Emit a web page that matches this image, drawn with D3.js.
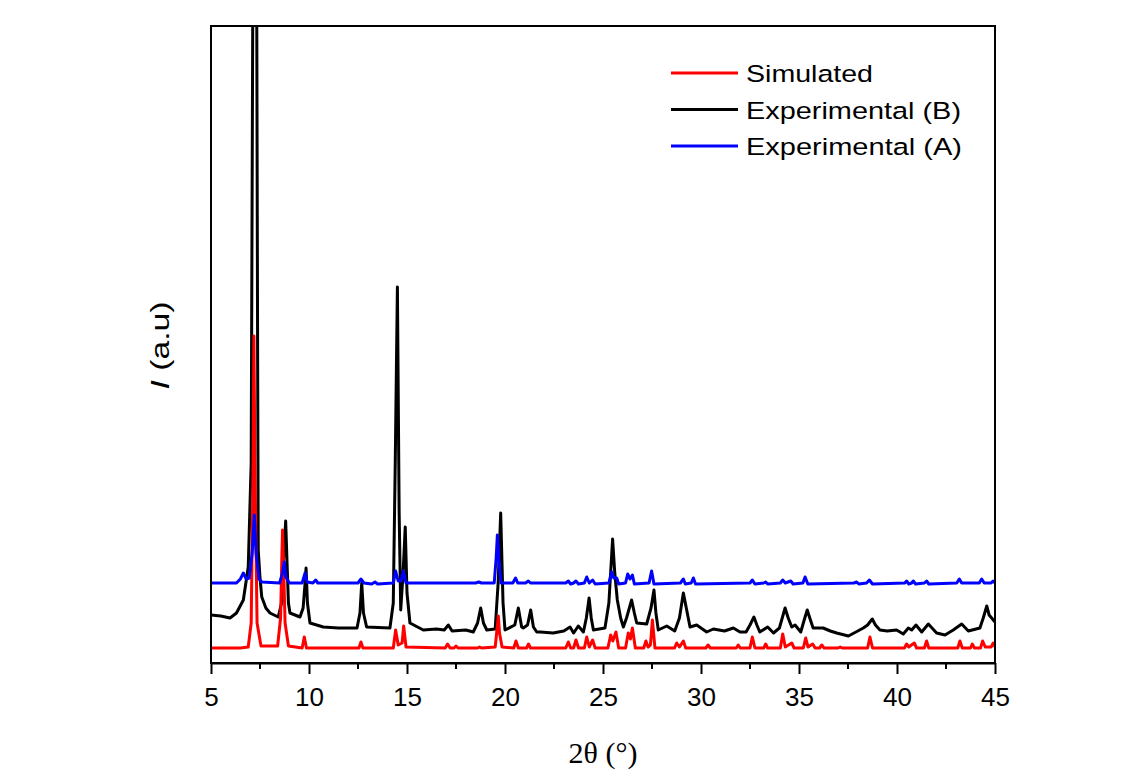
<!DOCTYPE html>
<html>
<head>
<meta charset="utf-8">
<script src="https://cdn.jsdelivr.net/npm/d3@7"></script>
<style>
  html, body { margin: 0; padding: 0; background: #fff; }
  svg { display: block; }
</style>
</head>
<body>
<svg id="chart" width="1140" height="778"></svg>
<script>
// ---- Data (2θ in degrees, intensity in arbitrary units) ----
const xTicks = [5, 10, 15, 20, 25, 30, 35, 40, 45];
const seriesNames = ["Simulated", "Experimental (B)", "Experimental (A)"];

const simulated = [
  [5.0,15],[6.5,15],[6.9,16],[7.05,40],[7.15,200],[7.19,327],[7.24,200],[7.35,40],[7.55,17],
  [8.4,17],[8.55,45],[8.62,110],[8.65,133],[8.7,100],[8.78,40],[8.95,17],
  [9.65,15],[9.76,26],[9.87,15],[12.55,15],[12.65,21],[12.75,15],
  [14.3,15],[14.42,33],[14.55,18],[14.75,20],[14.83,37],[14.95,16],
  [16.95,15],[17.07,19],[17.2,15],[17.4,15],[17.5,17],[17.6,15],[18.6,15],[18.7,16],[18.8,15],
  [19.5,16],[19.6,35],[19.66,47],[19.72,30],[19.85,16],[20.45,15],[20.56,22],[20.68,15],
  [21.1,15],[21.2,19],[21.3,15],[23.1,15],[23.23,21],[23.35,15],[23.5,15],[23.62,23],[23.75,15],
  [24.05,15],[24.17,26],[24.3,16],[24.47,23],[24.6,15],[25.25,15],[25.39,28],[25.5,22],[25.66,31],[25.8,15],
  [26.15,15],[26.29,30],[26.4,24],[26.5,35],[26.65,15],[27.08,15],[27.19,22],[27.3,16],[27.42,18],[27.52,43],[27.65,15],
  [28.65,15],[28.76,20],[28.9,16],[29.1,22],[29.22,15],[30.25,15],[30.36,18],[30.48,15],
  [31.8,15],[31.9,18],[32.0,15],[32.5,15],[32.62,26],[32.75,15],[33.2,15],[33.3,19],[33.4,15],
  [34.05,15],[34.17,29],[34.3,16],[34.63,20],[34.75,15],[35.22,15],[35.34,25],[35.46,16],[35.7,19],[35.82,15],
  [36.05,15],[36.16,18],[36.28,15],[37.0,15],[37.1,16],[37.2,15],[38.5,15],[38.62,26],[38.75,15],
  [40.38,15],[40.49,19],[40.6,16],[40.88,20],[41.0,15],[41.4,15],[41.51,22],[41.62,15],
  [43.1,15],[43.21,22],[43.33,15],[43.75,15],[43.84,19],[43.95,15],[44.26,15],[44.37,22],[44.5,16],[44.8,16],[44.91,20],[45.0,16]
];

const experimentalB = [
  [5.0,48],[5.5,47],[5.97,45],[6.3,50],[6.65,63],[6.9,96],[7.05,200],[7.15,760],[7.22,760],[7.32,760],[7.38,300],
  [7.41,113],[7.5,85],[7.59,66],[7.8,55],[8.01,50],[8.43,46],[8.6,60],[8.72,110],[8.81,142],[8.88,100],[8.95,60],
  [9.03,50],[9.54,46],[9.7,55],[9.8,80],[9.85,95],[9.92,60],[10.05,40],[10.73,36],[11.5,35],[12.45,35],
  [12.6,50],[12.69,80],[12.78,50],[12.94,36],[14.13,35],[14.3,60],[14.4,200],[14.51,376],[14.6,150],[14.68,53],
  [14.8,90],[14.91,136],[15.0,70],[15.15,40],[15.83,33],[16.5,34],[16.9,33],[17.11,38],[17.3,32],[18.0,33],
  [18.38,31],[18.6,40],[18.76,55],[18.9,40],[19.07,33],[19.5,34],[19.65,80],[19.78,150],[19.9,60],[20.0,33],
  [20.5,38],[20.68,55],[20.85,36],[20.93,35],[21.15,38],[21.31,53],[21.45,36],[21.62,31],[21.8,31],[22.46,30],
  [23.0,32],[23.32,36],[23.5,30],[23.74,37],[24.0,31],[24.15,45],[24.29,65],[24.4,45],[24.51,33],[25.1,35],
  [25.3,60],[25.49,124],[25.6,90],[25.73,63],[25.9,45],[26.04,36],[26.2,45],[26.46,63],[26.6,50],[26.72,40],
  [27.23,39],[27.45,55],[27.6,73],[27.7,50],[27.82,33],[28.25,37],[28.66,32],[28.9,45],[29.1,70],[29.25,55],
  [29.44,36],[29.78,38],[30.29,31],[30.63,34],[31.2,32],[31.65,35],[31.99,31],[32.3,31],[32.5,38],[32.7,46],
  [32.85,38],[33.0,31],[33.4,36],[33.7,30],[34.0,35],[34.29,55],[34.45,45],[34.63,36],[34.8,38],[35.09,31],
  [35.25,42],[35.42,53],[35.55,45],[35.72,35],[36.23,35],[36.6,32],[36.92,30],[37.52,27],[38.0,32],[38.28,35],
  [38.5,38],[38.74,44],[38.9,38],[39.13,33],[39.5,32],[39.98,33],[40.32,29],[40.58,35],[40.75,33],[40.97,38],
  [41.26,31],[41.6,39],[42.02,30],[42.45,28],[42.87,33],[43.3,39],[43.64,32],[44.23,35],[44.4,45],[44.58,57],
  [44.7,48],[44.83,45],[45.0,41]
];

const experimentalA = [
  [5.0,80],[6.3,80],[6.5,84],[6.65,90],[6.8,84],[6.95,85],[7.1,110],[7.21,148],[7.3,110],[7.45,84],[7.6,81],
  [8.5,80],[8.65,90],[8.74,101],[8.82,86],[9.0,80],[9.65,80],[9.8,90],[9.9,81],[10.2,80],[10.34,83],[10.45,80],
  [12.5,80],[12.65,84],[12.8,80],[13.2,79],[13.37,81],[13.5,79],[14.3,80],[14.42,92],[14.55,82],[14.7,82],
  [14.81,92],[14.95,80],[18.5,80],[18.66,81],[18.8,80],[19.45,80],[19.55,105],[19.61,128],[19.7,100],[19.8,80],
  [20.4,80],[20.54,85],[20.65,80],[21.05,80],[21.19,82],[21.3,80],[23.1,80],[23.23,82],[23.35,79],[23.5,80],
  [23.62,82],[23.75,79],[24.05,80],[24.17,86],[24.3,80],[24.47,83],[24.6,79],[25.3,80],[25.44,91],[25.55,85],
  [25.7,85],[25.8,79],[26.15,80],[26.26,89],[26.38,84],[26.5,88],[26.6,79],[27.35,80],[27.48,92],[27.6,79],
  [28.95,80],[29.1,84],[29.2,79],[29.5,80],[29.61,85],[29.72,79],[32.5,80],[32.62,83],[32.75,79],[33.2,80],
  [33.3,81],[33.4,79],[34.05,80],[34.17,83],[34.3,80],[34.58,82],[34.7,79],[35.2,80],[35.31,86],[35.45,79],
  [37.8,80],[37.94,81],[38.05,79],[38.45,80],[38.59,83],[38.75,79],[40.4,80],[40.49,82],[40.6,79],[40.75,80],
  [40.83,82],[40.95,79],[41.4,80],[41.51,82],[41.62,79],[43.05,80],[43.18,84],[43.3,80],[44.2,80],[44.32,84],
  [44.45,80],[44.8,80],[44.9,82],[45.0,80]
];

const seriesColors = ["#ff0000", "#000000", "#0000ff"];

// ---- Drawing ----
const svg = d3.select("#chart");
const m = { left: 211, right: 995, top: 26, bottom: 663 };

const x = d3.scaleLinear().domain([5, 45]).range([m.left, m.right]);
const y = d3.scaleLinear().domain([0, 637]).range([m.bottom, m.top]);

svg.append("defs").append("clipPath").attr("id", "plotclip")
  .append("rect").attr("x", m.left).attr("y", m.top)
  .attr("width", m.right - m.left).attr("height", m.bottom - m.top);

const line = d3.line().x(d => x(d[0])).y(d => y(d[1]));
const plot = svg.append("g").attr("clip-path", "url(#plotclip)");

// draw order: black, red, blue
[[experimentalB, seriesColors[1]], [simulated, seriesColors[0]], [experimentalA, seriesColors[2]]]
  .forEach(([data, color]) => {
    plot.append("path").datum(data)
      .attr("d", line)
      .attr("fill", "none")
      .attr("stroke", color)
      .attr("stroke-width", 3)
      .attr("stroke-linejoin", "round");
  });

// frame
svg.append("rect")
  .attr("x", m.left).attr("y", m.top)
  .attr("width", m.right - m.left).attr("height", m.bottom - m.top)
  .attr("fill", "none").attr("stroke", "#000").attr("stroke-width", 2);

// bottom axis with major ticks
const xAxis = d3.axisBottom(x).tickValues(xTicks).tickSize(11).tickSizeOuter(0).tickPadding(14)
  .tickFormat(d3.format("d"));
const gx = svg.append("g").attr("transform", `translate(0,${m.bottom})`).call(xAxis);
gx.select(".domain").attr("stroke-width", 2);
gx.selectAll(".tick line").attr("stroke-width", 2);
gx.selectAll(".tick text")
  .attr("font-family", "Liberation Sans, Arial, sans-serif")
  .attr("font-size", 26).attr("fill", "#000");

// minor ticks
const minor = d3.range(7.5, 45, 5);
svg.append("g").selectAll("line").data(minor).join("line")
  .attr("x1", d => x(d)).attr("x2", d => x(d))
  .attr("y1", m.bottom).attr("y2", m.bottom + 6)
  .attr("stroke", "#000").attr("stroke-width", 2);

// axis titles
svg.append("text")
  .attr("x", (m.left + m.right) / 2).attr("y", 763)
  .attr("text-anchor", "middle")
  .attr("font-family", "Liberation Serif, Times New Roman, serif")
  .attr("font-size", 30)
  .text("2θ (°)");

const yt = svg.append("text")
  .attr("transform", `translate(169,${(m.top + m.bottom) / 2 + 1}) rotate(-90)`)
  .attr("text-anchor", "middle")
  .attr("font-family", "Liberation Sans, Arial, sans-serif")
  .attr("font-size", 25)
  .attr("textLength", 88)
  .attr("lengthAdjust", "spacingAndGlyphs");
yt.append("tspan").attr("font-style", "italic").text("I");
yt.append("tspan").text(" (a.u)");

// legend
const legendY = [73, 109.5, 146];
const legendW = [127, 215, 216];
const legend = svg.append("g");
seriesNames.forEach((name, i) => {
  legend.append("line")
    .attr("x1", 671).attr("x2", 738)
    .attr("y1", legendY[i]).attr("y2", legendY[i])
    .attr("stroke", seriesColors[i]).attr("stroke-width", 3);
  legend.append("text")
    .attr("x", 746).attr("y", legendY[i] + 9)
    .attr("font-family", "Liberation Sans, Arial, sans-serif")
    .attr("font-size", 24.5)
    .attr("textLength", legendW[i])
    .attr("lengthAdjust", "spacingAndGlyphs")
    .text(name);
});
</script>
</body>
</html>
